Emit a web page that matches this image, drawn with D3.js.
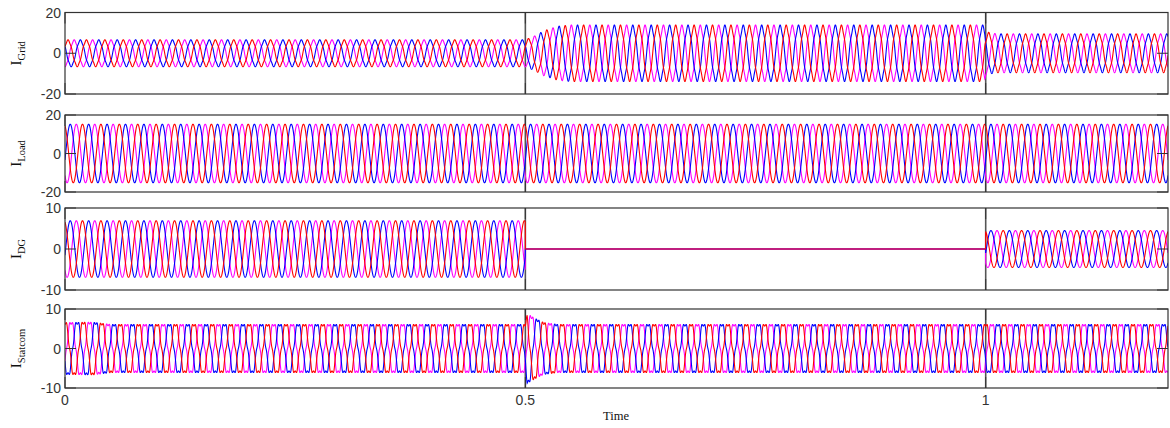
<!DOCTYPE html>
<html>
<head>
<meta charset="utf-8">
<script src="https://cdn.jsdelivr.net/npm/d3@7"></script>
<style>
  html, body { margin: 0; padding: 0; background: #fff; }
  svg { display: block; }
</style>
</head>
<body>
<svg id="chart" width="1170" height="428"></svg>
<script>
// ---------------- DATA ----------------
const timeDomain = [0, 1.198];
const frequencyHz = 50;
const sampleStep = 0.0001;
const xTickValues = [0, 0.5, 1];
const xTickLabels = ["0", "0.5", "1"];
const eventTimes = [0.5, 1];

const panelNames = ["Grid", "Load", "DG", "Statcom"];
const yDomains = [[-20, 20], [-20, 20], [-10, 10], [-10, 10]];
const yTickValues = [[-20, 0, 20], [-20, 0, 20], [-10, 0, 10], [-10, 0, 10]];

const phaseNames = ["magenta", "blue", "red"];
const phaseColors = ["#ff00ff", "#0000ff", "#ff0000"];

// amplitude envelopes: breakpoint times and peak amplitudes
const gridEnvTimes = [0, 0.5, 0.51, 0.52, 0.535, 0.55, 0.999, 1.0, 1.012, 1.2];
const gridEnvAmps  = [6.4, 6.4, 8.2, 10.6, 12.8, 13.4, 13.4, 10.2, 9.2, 9.2];
const loadEnvTimes = [0, 1.2];
const loadEnvAmps  = [15.2, 15.2];
const dgEnvTimes   = [0, 0.4999, 0.5, 0.9999, 1.0, 1.2];
const dgEnvAmps    = [6.9, 6.9, 0, 0, 4.5, 4.5];
const statEnvTimes = [0, 0.03, 0.05, 0.5, 0.502, 0.51, 0.52, 0.535, 1.2];
const statEnvAmps  = [7.0, 7.1, 6.5, 6.5, 9.4, 8.2, 7.0, 6.5, 6.5];

// time of the first peak of each phase [magenta, blue, red], seconds
const gridPeakTimes = [0.0100, 0.0167, 0.0033];
const loadPeakTimes = [0.0123, 0.0057, 0.0190];
const dgPeakTimes   = [0.0123, 0.0057, 0.0190];
const statPeakTimes = [0.0067, 0.0133, 0.0000];

// 5th-harmonic content relative to the fundamental
const fifthHarmonic = [0.05, 0.0, 0.0, -0.10];

const envelopes = [
  [gridEnvTimes, gridEnvAmps],
  [loadEnvTimes, loadEnvAmps],
  [dgEnvTimes, dgEnvAmps],
  [statEnvTimes, statEnvAmps]
];
const peakTimes = [gridPeakTimes, loadPeakTimes, dgPeakTimes, statPeakTimes];

// ---------------- LAYOUT ----------------
const plotLeft = 65, plotRight = 1168;
const panelBoxes = [
  { top: 12.5, bottom: 94 },
  { top: 115, bottom: 192 },
  { top: 208, bottom: 290 },
  { top: 309, bottom: 388 }
];
const tickLen = 11;

const svg = d3.select("#chart");
const x = d3.scaleLinear().domain(timeDomain).range([plotLeft, plotRight]);
const omega = 2 * Math.PI * frequencyHz;
const times = d3.range(timeDomain[0], timeDomain[1] + sampleStep / 2, sampleStep);

const defs = svg.append("defs");

panelNames.forEach((name, i) => {
  const box = panelBoxes[i];
  const y = d3.scaleLinear().domain(yDomains[i]).range([box.bottom, box.top]);
  const env = d3.scaleLinear().domain(envelopes[i][0]).range(envelopes[i][1]).clamp(true);
  const h5 = fifthHarmonic[i];
  const norm = 1 / (1 + Math.abs(h5) * 0.3);

  const clipId = "clip" + i;
  defs.append("clipPath").attr("id", clipId)
    .append("rect")
    .attr("x", plotLeft).attr("y", box.top)
    .attr("width", plotRight - plotLeft).attr("height", box.bottom - box.top);

  const g = svg.append("g");

  // event markers at switching instants
  g.selectAll("line.event").data(eventTimes).enter().append("line")
    .attr("class", "event")
    .attr("x1", d => x(d)).attr("x2", d => x(d))
    .attr("y1", box.top).attr("y2", box.bottom)
    .attr("stroke", "#555").attr("stroke-width", 1.6);

  const line = d3.line()
    .x(d => x(d[0]))
    .y(d => y(d[1]));

  const gc = g.append("g").attr("clip-path", `url(#${clipId})`);
  peakTimes[i].forEach((tp, p) => {
    const pts = times.map(t => {
      const ph = omega * (t - tp);
      const v = env(t) * norm * (Math.cos(ph) + h5 * Math.cos(5 * ph));
      return [t, v];
    });
    gc.append("path")
      .datum(pts)
      .attr("fill", "none")
      .attr("stroke", phaseColors[p])
      .attr("stroke-width", 1.1)
      .attr("d", line);
  });

  // frame
  g.append("rect")
    .attr("x", plotLeft).attr("y", box.top)
    .attr("width", plotRight - plotLeft).attr("height", box.bottom - box.top)
    .attr("fill", "none").attr("stroke", "#333").attr("stroke-width", 1.2);

  // y ticks (inward, both sides)
  const yTicks = yTickValues[i];
  g.selectAll("line.yl").data(yTicks).enter().append("line")
    .attr("x1", plotLeft).attr("x2", plotLeft + tickLen)
    .attr("y1", d => y(d)).attr("y2", d => y(d))
    .attr("stroke", "#333").attr("stroke-width", 1);
  g.selectAll("line.yr").data(yTicks).enter().append("line")
    .attr("x1", plotRight - tickLen).attr("x2", plotRight)
    .attr("y1", d => y(d)).attr("y2", d => y(d))
    .attr("stroke", "#333").attr("stroke-width", 1);
  g.selectAll("text.ylab").data(yTicks).enter().append("text")
    .attr("x", plotLeft - 4).attr("y", d => y(d))
    .attr("dy", "0.36em")
    .attr("text-anchor", "end")
    .attr("font-family", "Liberation Sans, Arial, sans-serif")
    .attr("font-size", 14)
    .attr("fill", "#333")
    .text(d => d);

  // x ticks (inward, top and bottom)
  g.selectAll("line.xb").data(xTickValues).enter().append("line")
    .attr("x1", d => x(d)).attr("x2", d => x(d))
    .attr("y1", box.bottom).attr("y2", box.bottom - tickLen)
    .attr("stroke", "#333").attr("stroke-width", 1);
  g.selectAll("line.xt").data(xTickValues).enter().append("line")
    .attr("x1", d => x(d)).attr("x2", d => x(d))
    .attr("y1", box.top).attr("y2", box.top + tickLen)
    .attr("stroke", "#333").attr("stroke-width", 1);

  // y label  I_name
  const cy = (box.top + box.bottom) / 2;
  const lab = svg.append("text")
    .attr("transform", `translate(21,${cy}) rotate(-90)`)
    .attr("text-anchor", "middle")
    .attr("font-family", "Liberation Serif, Times New Roman, serif")
    .attr("fill", "#111");
  lab.append("tspan").attr("font-size", 15).text("I");
  lab.append("tspan").attr("font-size", 10.5).attr("dy", 4).text(name);

  // x tick labels only on the last panel
  if (i === panelNames.length - 1) {
    svg.selectAll("text.xlab").data(xTickValues).enter().append("text")
      .attr("x", d => x(d)).attr("y", box.bottom + 17)
      .attr("text-anchor", "middle")
      .attr("font-family", "Liberation Sans, Arial, sans-serif")
      .attr("font-size", 14)
      .attr("fill", "#333")
      .text((d, k) => xTickLabels[k]);
  }
});

svg.append("text")
  .attr("x", 616).attr("y", 420)
  .attr("text-anchor", "middle")
  .attr("font-family", "Liberation Serif, Times New Roman, serif")
  .attr("font-size", 12.5)
  .attr("fill", "#111")
  .text("Time");
</script>
</body>
</html>
